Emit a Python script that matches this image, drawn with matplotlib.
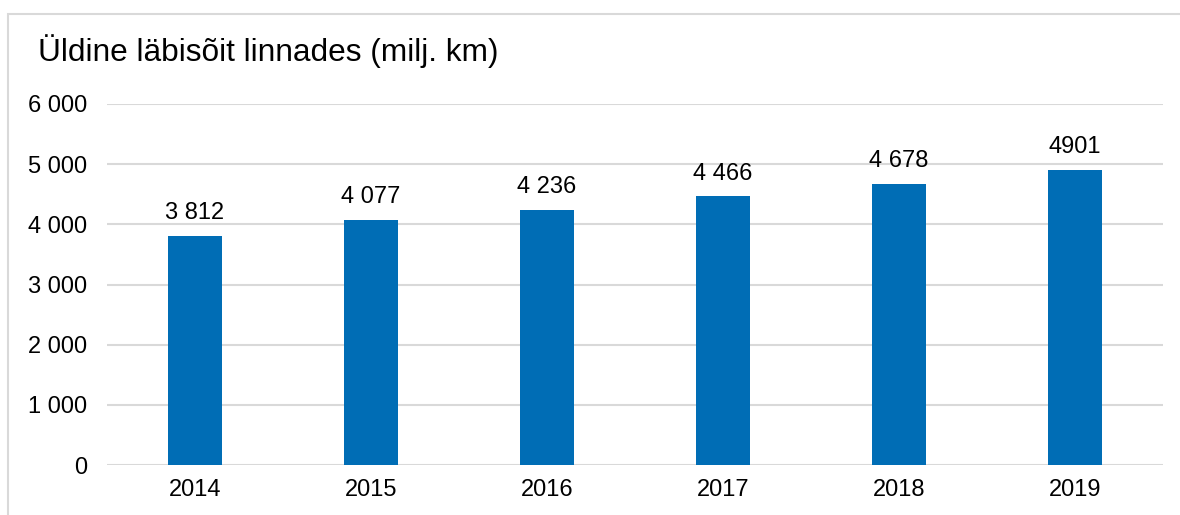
import matplotlib
matplotlib.use("Agg")
import matplotlib.pyplot as plt
from matplotlib.patches import Rectangle

years = ["2014", "2015", "2016", "2017", "2018", "2019"]
values = [3812, 4077, 4236, 4466, 4678, 4901]
value_labels = ["3 812", "4 077", "4 236", "4 466", "4 678", "4901"]
y_ticks = [0, 1000, 2000, 3000, 4000, 5000, 6000]
y_tick_labels = ["0", "1 000", "2 000", "3 000", "4 000", "5 000", "6 000"]
title = "Üldine läbisõit linnades (milj. km)"

plt.rcParams['font.family'] = ['Liberation Sans', 'DejaVu Sans']

W, H = 1180, 515
fig = plt.figure(figsize=(W / 100, H / 100), dpi=100)
fig.patch.set_facecolor("white")

# outer chart border (top and left visible)
fig.add_artist(Rectangle((8 / W, -0.1), 1.2, 1 - 14 / H + 0.1, transform=fig.transFigure,
                         fill=False, edgecolor="#d9d9d9", linewidth=1.5))

ax = fig.add_axes([107 / W, (H - 465) / H, 1056 / W, 361 / H])
x = list(range(len(years)))
ax.bar(x, values, width=0.31, color="#006db5", zorder=3)
ax.set_xlim(-0.5, len(years) - 0.5)
ax.set_ylim(0, 6000)
ax.set_yticks(y_ticks)
ax.set_yticklabels(y_tick_labels, fontsize=17)
ax.set_xticks(x)
ax.set_xticklabels(years, fontsize=17)
ax.tick_params(axis='y', length=0, pad=14)
ax.tick_params(axis='x', length=0, pad=10)
ax.grid(axis='y', color="#d9d9d9", linewidth=1.5, zorder=0)
for s in ax.spines.values():
    s.set_visible(False)

for xi, v, lab in zip(x, values, value_labels):
    ax.annotate(lab, (xi, v), xytext=(0, 12), textcoords="offset points",
                ha="center", va="baseline", fontsize=17, color="#000000")

fig.text(38 / W, 1 - 51 / H, title, fontsize=22.8, ha="left", va="center", color="#000000")

fig.savefig("out.png", dpi=100)
